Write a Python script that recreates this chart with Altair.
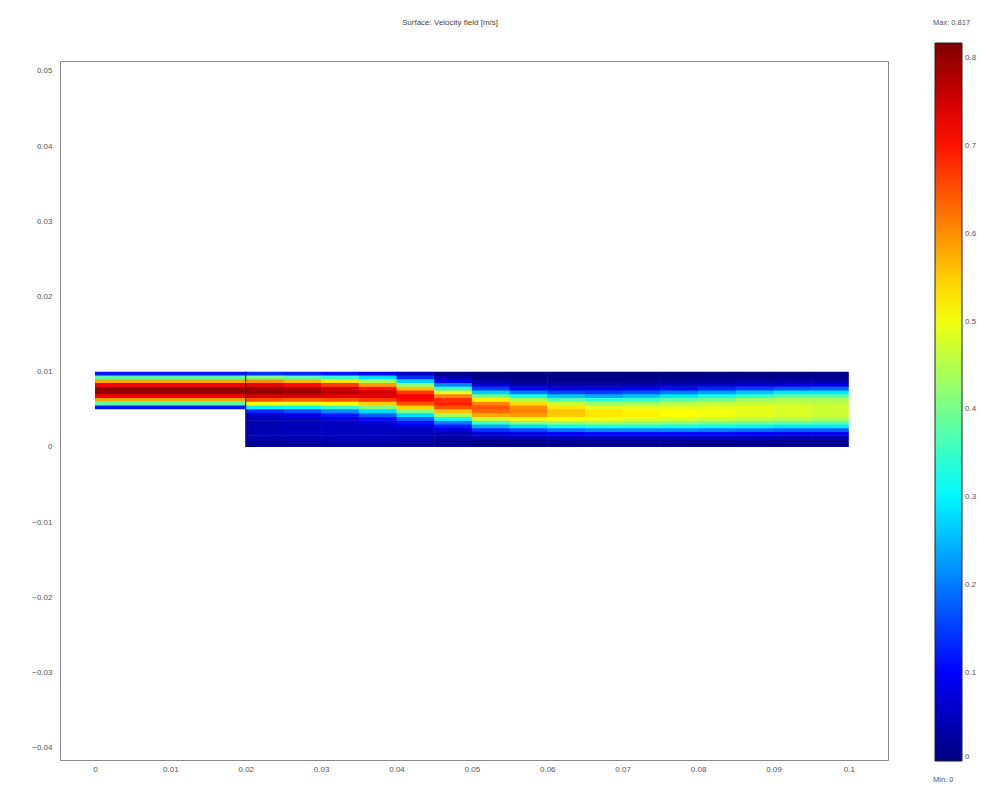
import altair as alt
import pandas as pd

TITLE = "Surface: Velocity field [m/s]"
MAX_LABEL = "Max: 0.817"
MIN_LABEL = "Min: 0"
V_MAX = 0.817

x_ticks = [0, 0.01, 0.02, 0.03, 0.04, 0.05, 0.06, 0.07, 0.08, 0.09, 0.1]
y_ticks = [-0.04, -0.03, -0.02, -0.01, 0, 0.01, 0.02, 0.03, 0.04, 0.05]
cbar_ticks = [0, 0.1, 0.2, 0.3, 0.4, 0.5, 0.6, 0.7, 0.8]

# geometry of the backward-facing step
inlet_x = [0.0, 0.02]
inlet_y0 = 0.005
outlet_x = [0.02, 0.1]
outlet_y = [0.0, 0.01]
row_h = 0.0005
col_w = 0.005
step_x = 0.02

# velocity magnitude, bottom row first (row height 0.0005)
inlet_profile = [0.12, 0.38, 0.58, 0.72, 0.80, 0.80, 0.72, 0.58, 0.38, 0.12]

u_0225 = [0.01, 0.025, 0.035, 0.04, 0.04, 0.04, 0.04, 0.04, 0.06, 0.13, 0.30, 0.50, 0.65, 0.75, 0.80, 0.79, 0.73, 0.60, 0.41, 0.14]
u_0275 = [0.01, 0.03, 0.04, 0.045, 0.045, 0.045, 0.045, 0.05, 0.08, 0.16, 0.31, 0.49, 0.64, 0.75, 0.79, 0.78, 0.71, 0.57, 0.38, 0.13]
u_0325 = [0.015, 0.035, 0.045, 0.05, 0.05, 0.05, 0.055, 0.07, 0.12, 0.21, 0.35, 0.51, 0.65, 0.74, 0.77, 0.75, 0.67, 0.53, 0.35, 0.12]
u_0375 = [0.015, 0.035, 0.045, 0.05, 0.05, 0.055, 0.07, 0.11, 0.18, 0.28, 0.41, 0.55, 0.67, 0.74, 0.75, 0.70, 0.59, 0.44, 0.28, 0.10]
u_0425 = [0.01, 0.03, 0.04, 0.045, 0.05, 0.07, 0.11, 0.18, 0.28, 0.41, 0.54, 0.65, 0.71, 0.72, 0.67, 0.56, 0.42, 0.27, 0.14, 0.05]
u_0475 = [0.008, 0.02, 0.03, 0.04, 0.07, 0.12, 0.20, 0.31, 0.44, 0.56, 0.65, 0.69, 0.68, 0.61, 0.49, 0.35, 0.21, 0.10, 0.04, 0.012]
u_0525 = [0.004, 0.012, 0.035, 0.07, 0.14, 0.24, 0.36, 0.48, 0.58, 0.63, 0.65, 0.61, 0.52, 0.40, 0.27, 0.15, 0.07, 0.03, 0.01, 0.003]
u_0575 = [0.004, 0.014, 0.04, 0.085, 0.16, 0.28, 0.41, 0.52, 0.59, 0.61, 0.60, 0.54, 0.44, 0.32, 0.20, 0.10, 0.045, 0.017, 0.006, 0.002]
u_0625 = [0.005, 0.017, 0.045, 0.10, 0.19, 0.31, 0.43, 0.51, 0.55, 0.56, 0.53, 0.47, 0.37, 0.26, 0.16, 0.08, 0.035, 0.013, 0.005, 0.002]
u_0675 = [0.006, 0.02, 0.05, 0.11, 0.21, 0.33, 0.44, 0.50, 0.53, 0.53, 0.49, 0.43, 0.34, 0.24, 0.15, 0.08, 0.035, 0.013, 0.005, 0.002]
u_0725 = [0.006, 0.02, 0.05, 0.11, 0.21, 0.33, 0.43, 0.49, 0.52, 0.52, 0.49, 0.43, 0.35, 0.26, 0.17, 0.09, 0.04, 0.015, 0.006, 0.002]
u_0775 = [0.006, 0.02, 0.05, 0.11, 0.21, 0.32, 0.42, 0.48, 0.51, 0.51, 0.49, 0.45, 0.38, 0.29, 0.20, 0.11, 0.05, 0.02, 0.008, 0.003]
u_0825 = [0.006, 0.018, 0.05, 0.11, 0.20, 0.31, 0.41, 0.47, 0.50, 0.50, 0.49, 0.46, 0.40, 0.32, 0.23, 0.13, 0.06, 0.025, 0.01, 0.004]
u_0875 = [0.005, 0.016, 0.045, 0.10, 0.19, 0.30, 0.40, 0.46, 0.49, 0.49, 0.49, 0.47, 0.43, 0.35, 0.26, 0.15, 0.07, 0.03, 0.011, 0.004]
u_0925 = [0.005, 0.015, 0.04, 0.09, 0.18, 0.29, 0.39, 0.45, 0.48, 0.48, 0.48, 0.47, 0.44, 0.38, 0.29, 0.17, 0.08, 0.035, 0.013, 0.004]
u_0975 = [0.005, 0.015, 0.04, 0.09, 0.18, 0.29, 0.38, 0.44, 0.47, 0.47, 0.47, 0.46, 0.44, 0.38, 0.29, 0.18, 0.09, 0.04, 0.015, 0.005]

outlet_columns = [u_0225, u_0275, u_0325, u_0375, u_0425, u_0475, u_0525, u_0575,
                  u_0625, u_0675, u_0725, u_0775, u_0825, u_0875, u_0925, u_0975]

# jet colormap stops
jet_domain = [0, 0.125 * V_MAX, 0.375 * V_MAX, 0.625 * V_MAX, 0.875 * V_MAX, V_MAX]
jet_range = ["#000080", "#0000ff", "#00ffff", "#ffff00", "#ff0000", "#800000"]

# cells overlap their neighbours by a hair so no white seams show between them
OVERLAP = 0.00007

rows = []
for j, v in enumerate(inlet_profile):
    y0 = inlet_y0 + j * row_h
    rows.append({"x0": inlet_x[0], "x1": inlet_x[1] + OVERLAP, "y0": y0,
                 "y1": min(y0 + row_h + OVERLAP, outlet_y[1]), "v": v})
for i, col in enumerate(outlet_columns):
    x0 = outlet_x[0] + i * col_w
    for j, v in enumerate(col):
        y0 = outlet_y[0] + j * row_h
        rows.append({"x0": x0, "x1": min(x0 + col_w + OVERLAP, outlet_x[1]), "y0": y0,
                     "y1": min(y0 + row_h + OVERLAP, outlet_y[1]), "v": v})
cells = pd.DataFrame(rows)

xscale = alt.Scale(domain=[-0.00464, 0.1052], nice=False, zero=False)
yscale = alt.Scale(domain=[-0.0416, 0.0513], nice=False, zero=False)
cscale = alt.Scale(type="linear", domain=jet_domain, range=jet_range, interpolate="rgb")

field = alt.Chart(cells).mark_rect().encode(
    x=alt.X("x0:Q", scale=xscale, axis=alt.Axis(values=x_ticks, format="~g", title=None, labelPadding=5)),
    x2="x1:Q",
    y=alt.Y("y0:Q", scale=yscale, axis=alt.Axis(values=y_ticks, format="~g", title=None, labelPadding=8)),
    y2="y1:Q",
    color=alt.Color(
        "v:Q",
        scale=cscale,
        legend=alt.Legend(
            orient="none", legendX=875, legendY=-18, title=None,
            direction="vertical", gradientLength=718, gradientThickness=27,
            values=cbar_ticks, format="~g", labelFontSize=8, labelColor="#555",
            labelFont="Liberation Sans", labelOffset=3,
            gradientStrokeColor="#222", gradientStrokeWidth=1, padding=0,
        ),
    ),
)

step_df = pd.DataFrame({"x": [step_x], "y": [outlet_y[0]], "y2": [outlet_y[1]]})
step = alt.Chart(step_df).mark_rule(color="#1a1a1a", strokeWidth=1).encode(
    x="x:Q", y="y:Q", y2="y2:Q"
)

title_df = pd.DataFrame({"t": [TITLE]})
max_df = pd.DataFrame({"t": [MAX_LABEL]})
min_df = pd.DataFrame({"t": [MIN_LABEL]})
title_txt = alt.Chart(title_df).mark_text(align="center", baseline="middle", fontSize=8,
                                           color="#444", font="Liberation Sans").encode(
    x=alt.value(390), y=alt.value(-38), text="t:N")
max_txt = alt.Chart(max_df).mark_text(align="left", baseline="middle", fontSize=7.5,
                                       color="#555", font="Liberation Sans").encode(
    x=alt.value(873), y=alt.value(-38), text="t:N")
min_txt = alt.Chart(min_df).mark_text(align="left", baseline="middle", fontSize=7.5,
                                       color="#555", font="Liberation Sans").encode(
    x=alt.value(873), y=alt.value(719), text="t:N")

chart = alt.layer(field, step, title_txt, max_txt, min_txt).properties(
    width=828,
    height=699,
    padding={"left": 60, "top": 61, "right": 94, "bottom": 27},
    autosize=alt.AutoSizeParams(type="none"),
).configure_view(
    stroke="#8a8a8a", strokeWidth=1
).configure_axis(
    grid=False, ticks=False, domain=False, labelFontSize=8, labelColor="#555",
    labelFont="Liberation Sans"
)

chart.save("out.html", embed_options={"renderer": "svg", "actions": False})
